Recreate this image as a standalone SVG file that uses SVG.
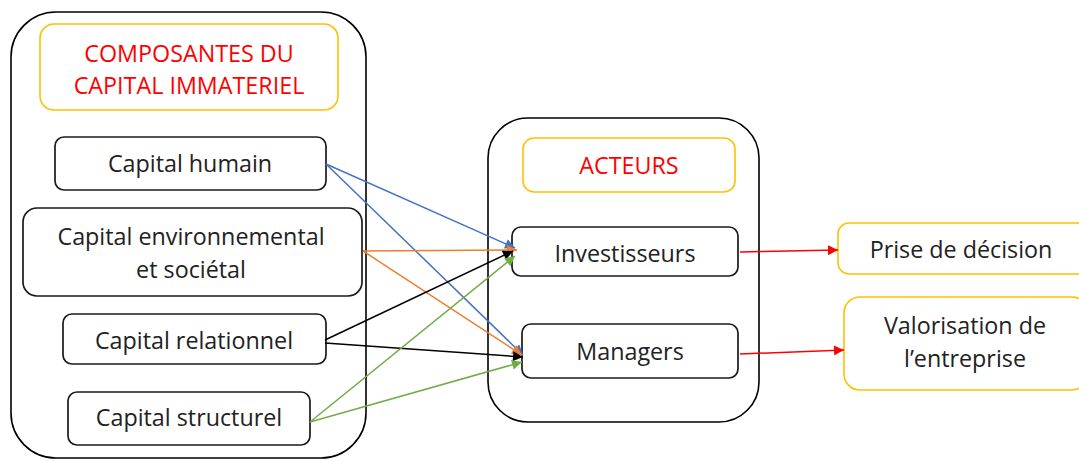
<svg xmlns="http://www.w3.org/2000/svg" width="1079" height="461" viewBox="0 0 1079 461">
  <style>
    .container { fill: #fff; stroke: #000; stroke-width: 1.6; }
    .title { fill: #fff; stroke: #FFC000; stroke-width: 1.6; }
    .node { fill: #fff; stroke: #1a1a1a; stroke-width: 1.7; }
    .result { fill: #fff; stroke: #FFC000; stroke-width: 1.6; }
    text { font-family: "Open Sans", "DejaVu Sans", sans-serif; font-size: 23.3px; text-anchor: middle; fill: #222; }
    .red { fill: #FF0000; }
    .edge { fill: none; stroke-width: 1.5; }
  </style>
  <defs>
    <marker id="ah-blue" viewBox="0 0 10 10" refX="10" refY="5" markerWidth="11" markerHeight="10" markerUnits="userSpaceOnUse" orient="auto"><path d="M0,0 L10,5 L0,10 z" fill="#4472C4"/></marker>
    <marker id="ah-orange" viewBox="0 0 10 10" refX="10" refY="5" markerWidth="11" markerHeight="10" markerUnits="userSpaceOnUse" orient="auto"><path d="M0,0 L10,5 L0,10 z" fill="#ED7D31"/></marker>
    <marker id="ah-black" viewBox="0 0 10 10" refX="10" refY="5" markerWidth="11" markerHeight="10" markerUnits="userSpaceOnUse" orient="auto"><path d="M0,0 L10,5 L0,10 z" fill="#000"/></marker>
    <marker id="ah-green" viewBox="0 0 10 10" refX="10" refY="5" markerWidth="11" markerHeight="10" markerUnits="userSpaceOnUse" orient="auto"><path d="M0,0 L10,5 L0,10 z" fill="#70AD47"/></marker>
    <marker id="ah-red" viewBox="0 0 10 10" refX="10" refY="5" markerWidth="11" markerHeight="10" markerUnits="userSpaceOnUse" orient="auto"><path d="M0,0 L10,5 L0,10 z" fill="#FF0000"/></marker>
  </defs>
  <rect width="1079" height="461" fill="#fff"/>

  <!-- Left group: intangible capital components -->
  <g id="composantes">
    <rect class="container" x="11" y="12" width="355" height="446" rx="45" ry="45"/>
    <g id="titre-composantes">
      <rect class="title" x="40" y="24" width="298" height="86" rx="14" ry="14"/>
      <text class="red" x="189" y="62">COMPOSANTES DU</text>
      <text class="red" x="189" y="94">CAPITAL IMMATERIEL</text>
    </g>
    <g id="capital-humain">
      <rect class="node" x="55" y="137" width="271" height="53" rx="9" ry="9"/>
      <text x="190" y="172">Capital humain</text>
    </g>
    <g id="capital-environnemental">
      <rect class="node" x="23" y="208" width="339" height="88" rx="14" ry="14"/>
      <text x="191" y="245">Capital environnemental</text>
      <text x="191" y="278">et sociétal</text>
    </g>
    <g id="capital-relationnel">
      <rect class="node" x="63" y="314" width="263" height="50" rx="9" ry="9"/>
      <text x="194" y="349">Capital relationnel</text>
    </g>
    <g id="capital-structurel">
      <rect class="node" x="68" y="392" width="242" height="53" rx="9" ry="9"/>
      <text x="189" y="426">Capital structurel</text>
    </g>
  </g>

  <!-- Middle group: actors -->
  <g id="acteurs">
    <rect class="container" x="488" y="118" width="271" height="304" rx="40" ry="40"/>
    <g id="titre-acteurs">
      <rect class="title" x="523" y="138" width="212" height="54" rx="11" ry="11"/>
      <text class="red" x="629" y="174">ACTEURS</text>
    </g>
    <g id="investisseurs">
      <rect class="node" x="512" y="227" width="226" height="49" rx="9" ry="9"/>
      <text x="625" y="262">Investisseurs</text>
    </g>
    <g id="managers">
      <rect class="node" x="522" y="324" width="216" height="54" rx="9" ry="9"/>
      <text x="630" y="360">Managers</text>
    </g>
  </g>

  <!-- Outcomes -->
  <g id="prise-de-decision">
    <rect class="result" x="838" y="223" width="250" height="51" rx="11" ry="11"/>
    <text x="961" y="258">Prise de décision</text>
  </g>
  <g id="valorisation">
    <rect class="result" x="844" y="297" width="244" height="93" rx="16" ry="16"/>
    <text x="965" y="334">Valorisation de</text>
    <text x="965" y="367">l’entreprise</text>
  </g>

  <!-- Connectors -->
  <g id="connecteurs">
    <line class="edge" stroke="#4472C4" x1="326" y1="164" x2="515" y2="248" marker-end="url(#ah-blue)"/>
    <line class="edge" stroke="#4472C4" x1="326" y1="164" x2="523" y2="355" marker-end="url(#ah-blue)"/>
    <line class="edge" stroke="#ED7D31" x1="363" y1="251" x2="517" y2="250" marker-end="url(#ah-orange)"/>
    <line class="edge" stroke="#ED7D31" x1="363" y1="251" x2="522" y2="355" marker-end="url(#ah-orange)"/>
    <line class="edge" stroke="#000" x1="325" y1="340" x2="513" y2="251" marker-end="url(#ah-black)"/>
    <line class="edge" stroke="#000" x1="325" y1="343" x2="523" y2="357" marker-end="url(#ah-black)"/>
    <line class="edge" stroke="#70AD47" x1="310" y1="422" x2="515" y2="256" marker-end="url(#ah-green)"/>
    <line class="edge" stroke="#70AD47" x1="310" y1="422" x2="522" y2="362" marker-end="url(#ah-green)"/>
    <line class="edge" stroke="#FF0000" x1="740" y1="252" x2="838" y2="250" marker-end="url(#ah-red)"/>
    <line class="edge" stroke="#FF0000" x1="740" y1="354" x2="844" y2="350" marker-end="url(#ah-red)"/>
  </g>
</svg>
